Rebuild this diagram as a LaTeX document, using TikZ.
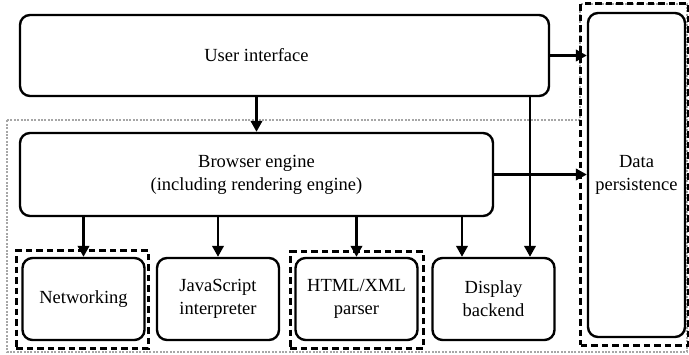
\documentclass[tikz,border=0pt]{standalone}
\usepackage{fontspec}
\setmainfont{Liberation Serif}
\usetikzlibrary{arrows.meta,fit,calc}

\tikzset{
  txt/.style={align=center, inner sep=0pt, font=\fontsize{18.5}{23}\selectfont},
  box/.style={txt, draw, line width=2.4pt, rounded corners=10pt},
  smallbox/.style={box, minimum width=122pt, minimum height=82pt},
  arr/.style={line width=2.4pt, -{Triangle[length=11pt,width=11.5pt]}},
  group/.style={draw, line width=2.7pt, dash pattern=on 6.5pt off 4pt, inner sep=0pt},
  region/.style={draw=black!35, line width=2.4pt, dash pattern=on 2pt off 1.4pt}
}

\begin{document}
\begin{tikzpicture}[x=1pt, y=-1pt]
  \useasboundingbox (0,0) rectangle (689,355);

  % outer grey region of the engine side
  \draw[region] (7,120) -- (580,120) -- (580,4) -- (687,4) -- (687,352) -- (7,352) -- cycle;

  % components
  \node[box, minimum width=529pt, minimum height=81pt] (ui) at (284.5,55.5) {};
  \node[box, minimum width=473pt, minimum height=83pt] (be) at (256.5,174.5)
    {Browser engine\\(including rendering engine)};
  \node[txt] (uitext) at (be.center |- ui.center) {User interface};
  \node[box, minimum width=97pt, minimum height=324pt] (dp) at (636.5,175) {Data\\persistence};

  \node[smallbox] (net)  at (83.5,299)  {Networking};
  \node[smallbox] (js)   at (218,299)   {JavaScript\\interpreter};
  \node[smallbox] (html) at (356.5,299) {HTML/XML\\parser};
  \node[smallbox] (disp) at (493.5,299) {Display\\backend};

  % dashed groupings
  \node[group, fit={($(net.north west)+(-5,-6)$) ($(net.south east)+(3,7)$)}] (gnet) {};
  \node[group, fit={($(html.north west)+(-4,-5)$) ($(html.south east)+(5,7)$)}] (ghtml) {};
  \node[group, fit={($(dp.north west)+(-6,-8)$) ($(dp.south east)+(2,7)$)}] (gdp) {};

  % feet of the two arrows into the display backend
  \coordinate (uid) at (530,0 |- ui.south);
  \coordinate (bed) at (462,0 |- be.south);

  % connectors
  \draw[arr] (ui.east) -- (dp.west |- ui.east);
  \draw[arr] (be.east) -- (dp.west |- be.east);
  \draw[arr] (be.north |- ui.south) -- (be.north);
  \draw[arr] (uid) -- (uid |- disp.north);
  \draw[arr] (net.north |- be.south) -- (net.north);
  \draw[arr] (js.north |- be.south) -- (js.north);
  \draw[arr] (html.north |- be.south) -- (html.north);
  \draw[arr] (bed) -- (bed |- disp.north);
\end{tikzpicture}
\end{document}
